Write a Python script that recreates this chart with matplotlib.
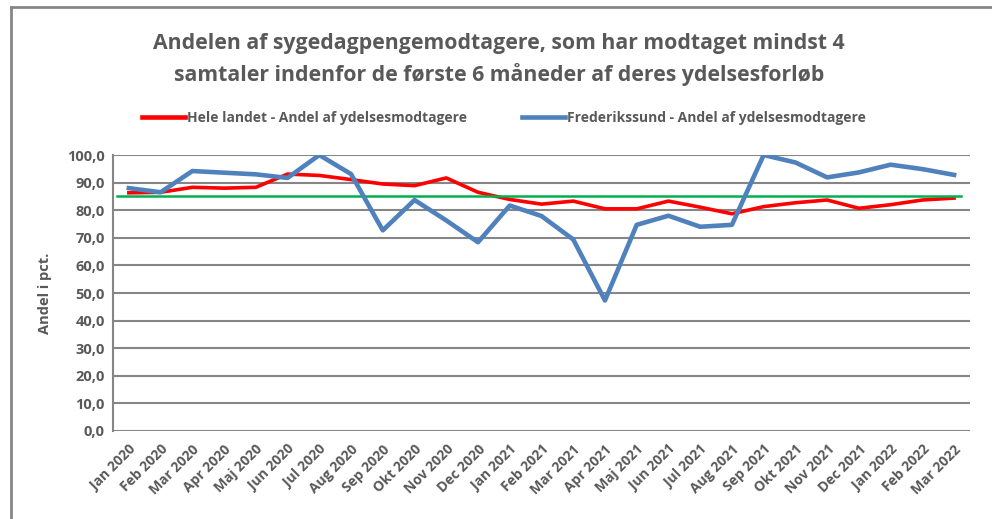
import matplotlib
matplotlib.use('Agg')
import matplotlib.pyplot as plt
from matplotlib.lines import Line2D
from matplotlib import font_manager

# pick a narrow-ish font close to Calibri
names = {f.name for f in font_manager.fontManager.ttflist}
family = 'Liberation Sans Narrow' if 'Liberation Sans Narrow' in names else 'Open Sans'
plt.rcParams['font.family'] = [family, 'DejaVu Sans']

months = ['Jan 2020', 'Feb 2020', 'Mar 2020', 'Apr 2020', 'Maj 2020', 'Jun 2020',
          'Jul 2020', 'Aug 2020', 'Sep 2020', 'Okt 2020', 'Nov 2020', 'Dec 2020',
          'Jan 2021', 'Feb 2021', 'Mar 2021', 'Apr 2021', 'Maj 2021', 'Jun 2021',
          'Jul 2021', 'Aug 2021', 'Sep 2021', 'Okt 2021', 'Nov 2021', 'Dec 2021',
          'Jan 2022', 'Feb 2022', 'Mar 2022']
hele_landet = [86.3, 86.5, 88.3, 88.0, 88.3, 93.1, 92.6, 91.1, 89.5, 88.9, 91.7, 86.5,
               83.9, 82.2, 83.3, 80.5, 80.5, 83.3, 81.1, 78.7, 81.3, 82.7, 83.7, 80.7,
               82.0, 83.7, 84.4]
frederikssund = [88.0, 86.5, 94.2, 93.6, 93.0, 91.7, 100.0, 93.1, 72.7, 83.7, 76.3, 68.4,
                 81.7, 77.9, 69.4, 47.3, 74.7, 78.0, 74.0, 74.7, 100.0, 97.3, 91.9, 93.7,
                 96.5, 94.9, 92.8]
target = 85.2
yticks = list(range(0, 101, 10))

grey = '#595959'
red = '#FF0000'
blue = '#4F81BD'
green = '#00B050'

fig = plt.figure(figsize=(9.92, 5.19), dpi=100)
ax = fig.add_axes([0.1139, 0.1696, 0.8639, 0.5317])

x = list(range(len(months)))
ax.plot(x, hele_landet, color=red, lw=2.6, zorder=3, solid_joinstyle='round')
ax.axhline(target, xmin=0.005, xmax=0.99, color=green, lw=1.8, zorder=4)
ax.plot(x, frederikssund, color=blue, lw=3.3, zorder=5, solid_joinstyle='round')

ax.set_xlim(-0.5, len(months) - 0.5)
ax.set_ylim(0, 100)
ax.set_yticks(yticks)
ax.set_yticklabels([f'{v:.1f}'.replace('.', ',') for v in yticks],
                   fontsize=10.5, fontweight='bold', color=grey)
ax.set_xticks(x)
ax.set_xticklabels(months, rotation=45, ha='right', rotation_mode='anchor',
                   fontsize=10, fontweight='bold', color=grey)
ax.tick_params(axis='both', length=0, pad=6)
ax.tick_params(axis='x', pad=8)
ax.grid(axis='y', color='#868686', lw=1.5, zorder=1)
ax.set_axisbelow(True)
for side in ['top', 'right', 'bottom']:
    ax.spines[side].set_visible(False)
ax.spines['left'].set_color('#868686')
ax.spines['left'].set_linewidth(1.5)

ax.set_ylabel('Andel i pct.', fontsize=10.5, fontweight='bold', color=grey, labelpad=11)

fig.text(0.503, 0.885, 'Andelen af sygedagpengemodtagere, som har modtaget mindst 4\n'
         'samtaler indenfor de første 6 måneder af deres ydelsesforløb',
         ha='center', va='center', fontsize=15.3, fontweight='bold', color=grey,
         linespacing=1.5)

handles = [Line2D([], [], color=red, lw=3.3),
           Line2D([], [], color=blue, lw=3.3)]
fig.legend(handles, ['Hele landet - Andel af ydelsesmodtagere',
                     'Frederikssund - Andel af ydelsesmodtagere'],
           loc='center', bbox_to_anchor=(0.508, 0.773), ncol=2, frameon=False,
           handlelength=3.1, handletextpad=0.15, columnspacing=3.9,
           prop={'size': 10, 'weight': 'bold'}, labelcolor=grey)

# chart frame (left and top edges visible in the crop)
fig.add_artist(Line2D([0.011, 0.011], [0.0, 0.987], color='#868686', lw=2))
fig.add_artist(Line2D([0.011, 1.0], [0.987, 0.987], color='#868686', lw=2))

fig.savefig('out.png', dpi=100)
